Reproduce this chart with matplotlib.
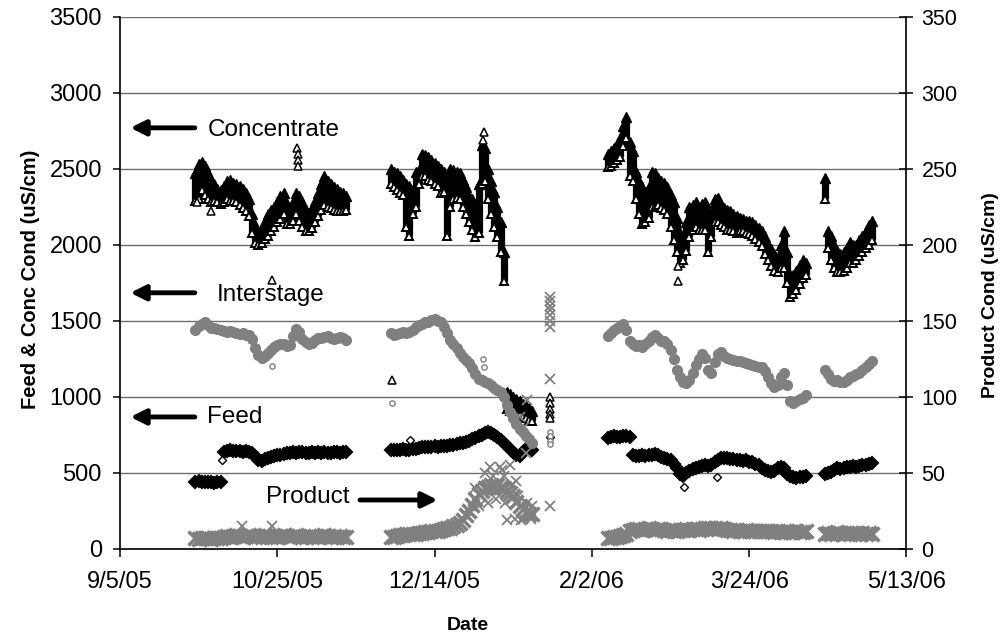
import numpy as np
import pandas as pd
import matplotlib
matplotlib.use('Agg')
import matplotlib.pyplot as plt

plt.rcParams['font.family'] = ['Liberation Sans', 'DejaVu Sans']

t0 = pd.Timestamp('2005-09-05')
run_starts = [24, 86, 155, 224]   # first day of each run, counted from 9/5/05

# Concentrate conductivity (uS/cm): daily low and high reading of each run
conc_lo = [
    [2290, 2300, 2360, 2330, 2300, 2280, 2290, 2280, 2270, 2280, 2300, 2290, 2290, 2280, 2260, 2240, 2220,
     2190, 2080, 2010, 2000, 2010, 2040, 2060, 2090, 2120, 2150, 2170, 2200, 2140, 2140, 2160, 2200, 2160,
     2120, 2090, 2090, 2110, 2150, 2190, 2230, 2260, 2250, 2240, 2230, 2220, 2220, 2220, 2230],
    [2400, 2380, 2360, 2340, 2330, 2120, 2060, 2200, 2250, 2400, 2450, 2450, 2430, 2420, 2400, 2390, 2340,
     2350, 2060, 2250, 2300, 2310, 2300, 2250, 2200, 2150, 2100, 2050, 2080, 2400, 2420, 2300, 2200, 2120,
     2050, 1950, 1760, 920, 910, 900, 890, 880, 870, 860, 850, 840],
    [2510, 2520, 2540, 2560, 2580, 2650, 2700, 2450, 2420, 2300, 2200, 2140, 2150, 2180, 2250, 2250, 2260,
     2240, 2230, 2200, 2120, 2030, 1950, 1880, 1900, 1960, 2050, 2100, 2120, 2100, 2100, 2100, 1950, 2050,
     2150, 2150, 2130, 2120, 2100, 2100, 2090, 2080, 2090, 2090, 2080, 2070, 2060, 2040, 2020, 1990, 1940,
     1900, 1860, 1830, 1820, 1850, 1850, 1750, 1660, 1680, 1700, 1740, 1780, 1800],
    [2300, 1980, 1900, 1850, 1820, 1820, 1830, 1850, 1880, 1880, 1900, 1930, 1950, 1980, 2000, 2030],
]
conc_hi = [
    [2470, 2530, 2545, 2520, 2470, 2430, 2400, 2370, 2360, 2390, 2420, 2430, 2410, 2400, 2390, 2370, 2340,
     2300, 2200, 2130, 2080, 2110, 2160, 2200, 2230, 2250, 2280, 2320, 2340, 2270, 2230, 2280, 2340, 2320,
     2280, 2230, 2210, 2240, 2290, 2340, 2400, 2450, 2420, 2400, 2380, 2370, 2350, 2340, 2320],
    [2500, 2480, 2470, 2450, 2430, 2400, 2390, 2360, 2480, 2490, 2600, 2590, 2580, 2560, 2540, 2520, 2500,
     2480, 2420, 2500, 2490, 2480, 2470, 2430, 2380, 2320, 2300, 2250, 2400, 2660, 2640, 2500, 2420, 2350,
     2250, 2150, 1950, 1035, 1020, 1000, 985, 970, 955, 940, 925, 910],
    [2600, 2620, 2640, 2660, 2700, 2780, 2840, 2680, 2620, 2480, 2420, 2380, 2330, 2380, 2480, 2470, 2440,
     2420, 2410, 2380, 2330, 2280, 2180, 2080, 2040, 2150, 2250, 2260, 2280, 2240, 2270, 2280, 2200, 2230,
     2300, 2310, 2260, 2240, 2230, 2220, 2200, 2190, 2180, 2170, 2160, 2160, 2150, 2130, 2110, 2090, 2050,
     2000, 1970, 1940, 1920, 2000, 2090, 1950, 1800, 1800, 1830, 1870, 1900, 1880],
    [2440, 2090, 2060, 2000, 1960, 1940, 1950, 1980, 2020, 2000, 2000, 2030, 2060, 2090, 2130, 2160],
]
conc_x_days = [24.5, 29.0, 48.3, 56.4, 56.5, 56.6, 56.7, 86.5, 115.3, 115.6,
               136.6, 136.6, 136.6, 136.6, 136.6, 177.3, 177.4]
conc_x_vals = [2280, 2220, 1772, 2640, 2600, 2560, 2520, 1110, 2690, 2745,
               1000, 960, 920, 890, 860, 1761, 1860]

# Interstage, feed and product: one reading per day
inter = [
    [1440, 1465, 1480, 1490, 1470, 1455, 1450, 1445, 1440, 1435, 1430, 1432, 1425, 1420, 1415, 1418, 1410,
     1405, 1380, 1320, 1275, 1255, 1270, 1290, 1310, 1330, 1340, 1350, 1345, 1335, 1340, 1400, 1445, 1430,
     1380, 1360, 1350, 1355, 1375, 1385, 1390, 1395, 1400, 1385, 1380, 1390, 1395, 1385, 1375],
    [1420, 1410, 1415, 1420, 1425, 1420, 1430, 1440, 1460, 1475, 1480, 1490, 1495, 1505, 1510, 1500, 1490,
     1460, 1420, 1375, 1345, 1320, 1290, 1265, 1240, 1220, 1190, 1150, 1120, 1110, 1100, 1090, 1080, 1060,
     1045, 1030, 1000, 950, 900, 860, 820, 790, 770, 740, 720, 700],
    [1400, 1420, 1440, 1455, 1465, 1480, 1440, 1370, 1345, 1335, 1340, 1330, 1345, 1370, 1395, 1405, 1390,
     1370, 1365, 1350, 1310, 1250, 1180, 1130, 1100, 1090, 1110, 1160, 1210, 1250, 1280, 1255, 1180, 1160,
     1230, 1280, 1295, 1270, 1255, 1250, 1240, 1235, 1238, 1230, 1225, 1215, 1210, 1205, 1200, 1195, 1170,
     1130, 1090, 1065, 1080, 1130, 1155, 1080, 970, 960, 975, 985, 995, 1015],
    [1180, 1150, 1120, 1105, 1110, 1100, 1095, 1110, 1130, 1140, 1150, 1160, 1175, 1195, 1215, 1235],
]
inter_x_days = [48.3, 86.5, 115.3, 115.6, 136.6, 136.6, 136.6, 136.6]
inter_x_vals = [1204, 960, 1250, 1200, 770, 740, 710, 690]

feed = [
    [440, 445, 440, 438, 442, 440, 436, 440, 438, 635, 645, 648, 645, 642, 645, 640, 645, 640, 630, 610,
     585, 578, 590, 600, 605, 612, 615, 620, 625, 630, 632, 635, 632, 638, 635, 630, 632, 635, 630, 635,
     632, 636, 634, 630, 635, 638, 632, 636, 640],
    [650, 648, 652, 650, 655, 652, 650, 655, 660, 665, 668, 670, 668, 672, 675, 672, 678, 680, 676, 682,
     685, 690, 695, 700, 705, 712, 720, 730, 740, 750, 760, 768, 765, 750, 735, 715, 695, 675, 655, 635,
     620, 610, 640, 655, 665, 650],
    [730, 735, 740, 738, 735, 740, 742, 735, 615, 610, 612, 615, 612, 618, 620, 625, 615, 605, 600, 592,
     585, 560, 530, 495, 480, 500, 515, 525, 535, 540, 545, 550, 548, 555, 570, 585, 598, 600, 595, 590,
     592, 588, 585, 580, 582, 575, 570, 560, 550, 535, 520, 510, 505, 515, 535, 540, 530, 495, 480, 470,
     468, 470, 472, 478],
    [495, 500, 505, 520, 530, 528, 535, 540, 538, 545, 542, 548, 550, 555, 560, 565],
]
feed_x_days = [32.5, 92.3, 136.6, 179.2, 189.7]
feed_x_vals = [585, 717, 737, 410, 472]

product = [
    [7, 6.5, 7, 7.5, 7, 6.5, 7, 7.5, 7, 8, 8.5, 8, 8.5, 9, 8.5, 8, 8.5, 9, 8.5, 8,
     8.5, 8, 9, 8.5, 8, 8.5, 8, 8.5, 9, 8.5, 8, 8.5, 9, 8.5, 8, 8, 8.5, 8, 8.5, 8,
     8.5, 9, 8.5, 8, 8.5, 8, 8.5, 8, 8],
    [8, 8, 8.5, 9, 9, 9.5, 9.5, 10, 10, 10.5, 10.5, 11, 11, 11.5, 11.5, 12, 12.5, 13, 13.5,
     14, 15, 16, 17, 19, 22, 25, 29, 33, 36, 38, 40, 41, 42, 41, 42, 41, 40, 38, 37,
     35, 31, 28, 26, 24, 23, 23],
    [7, 7.5, 8, 8, 8.5, 9, 10,
     12, 12.5, 13, 13, 12.5, 13, 13.5, 13, 12.5, 13, 13, 12.5, 12, 12.5, 12, 12, 12.5, 12.5, 13, 12.5,
     13, 13, 12.5, 13, 13.5, 14, 14, 13.5, 13, 13.5, 13, 12.5, 12.5, 12, 12.5, 12, 12, 12.5, 12, 12,
     11.5, 12, 11.5, 11.5, 12, 11.5, 11, 11.5, 11, 11, 11.5, 11, 11, 11.5, 11, 11, 11.5],
    [10, 10.5, 10, 10.5, 11, 10.5, 10, 10.5, 10, 10.5, 10.5, 10, 10.5, 10, 10.5, 10],
]
# extra product readings scattered around the main trend
prod_x_days = [38.9, 48.4, 112.5, 113.0, 114.0, 116.0, 117.0, 117.7, 118.5, 119.5, 120.8, 121.5, 122.0,
               122.5, 123.0, 124.0, 124.5, 125.5, 126.0, 126.5, 127.0, 127.5, 128.0, 128.5, 129.0, 129.3,
               129.5, 130.5, 131.0,
               136.6, 136.6, 136.6, 136.6, 136.6, 136.6, 136.6, 136.6, 136.6]
prod_x_vals = [15, 15, 27, 40, 28, 50, 30, 54, 48, 33, 54, 52, 48,
               30, 19, 55, 42, 20, 45, 35, 87, 19, 20, 80, 63, 98,
               30, 20, 28,
               166, 163, 160, 157, 154, 150, 146, 112, 28]


def dates(days):
    return t0 + pd.to_timedelta(np.asarray(days, dtype=float), unit='D')


def run(first, vals):
    return dates(first + np.arange(len(vals)))


GRAY = '#808080'
fig = plt.figure(figsize=(10.08, 6.42), dpi=100)
ax = fig.add_axes([0.119, 0.145, 0.7803, 0.8287])
ax2 = ax.twinx()

# concentrate: daily spread as a solid stack of triangles
for first, lo, hi in zip(run_starts, conc_lo, conc_hi):
    d = run(first, lo)
    ax.vlines(d, lo, hi, colors='black', lw=5.2, capstyle='butt')
    ax.plot(d, hi, ls='none', marker='^', ms=6.6, mfc='black', mec='black', mew=1.0)
    ax.plot(d, lo, ls='none', marker='^', ms=6.2, mfc='white', mec='black', mew=1.4)
ax.plot(dates(conc_x_days), conc_x_vals, ls='none', marker='^', ms=6.0,
        mfc='white', mec='black', mew=1.1)

dia = dict(ls='none', marker='D', ms=6.0, mfc='black', mec='black', mew=1.5)
for first, vals in zip(run_starts, feed):
    ax.plot(run(first, vals), vals, **dia)
ax.plot(dates(feed_x_days), feed_x_vals, **dict(dia, ms=4.2, mfc='white', mew=1.0))

circ = dict(ls='none', marker='o', ms=6.6, mfc=GRAY, mec=GRAY, mew=1.4)
for first, vals in zip(run_starts, inter):
    ax.plot(run(first, vals), vals, **circ)
ax.plot(dates(inter_x_days), inter_x_vals, **dict(circ, ms=3.8, mfc='white', mew=1.0))

crs = dict(ls='none', marker='x', ms=9.5, mec=GRAY, mew=2.5)
for first, vals in zip(run_starts, product):
    ax2.plot(run(first, vals), vals, **crs)
ax2.plot(dates(prod_x_days), prod_x_vals, **dict(crs, ms=7, mew=1.3))

# axes
ax.set_xlim(t0, t0 + pd.Timedelta(days=250))
ax.set_ylim(0, 3500)
ax2.set_ylim(0, 350)
ax.set_yticks(np.arange(0, 3501, 500))
ax2.set_yticks(np.arange(0, 351, 50))
xt = [t0 + pd.Timedelta(days=d) for d in range(0, 251, 50)]
ax.set_xticks(xt)
ax.set_xticklabels([f'{d.month}/{d.day}/{d:%y}' for d in xt])

ax.set_axisbelow(True)
ax.yaxis.grid(True, color='#6e6e6e', lw=1.0)
for a in (ax, ax2):
    a.spines['top'].set_visible(False)
ax.spines['right'].set_visible(False)
ax2.spines['left'].set_visible(False)
ax2.spines['bottom'].set_visible(False)
for s in ('left', 'bottom'):
    ax.spines[s].set_linewidth(1.2)
ax2.spines['right'].set_linewidth(1.2)

ax.tick_params(axis='y', direction='out', length=5, width=1.1, labelsize=17, pad=8)
ax.tick_params(axis='x', direction='out', length=6, width=1.1, labelsize=17, pad=10)
ax2.tick_params(axis='y', direction='inout', length=9.5, width=1.1, labelsize=15.5, pad=6)

fig.text(0.030, 0.565, 'Feed & Conc Cond (uS/cm)', rotation=90, ha='center', va='center',
         fontsize=14.5, fontweight='bold')
fig.text(0.983, 0.540, 'Product Cond (uS/cm)', rotation=90, ha='center', va='center',
         fontsize=14, fontweight='bold')
fig.text(0.464, 0.026, 'Date', ha='center', va='center', fontsize=14, fontweight='bold')

# stream labels with arrows
arr = dict(arrowstyle='-|>,head_length=0.9,head_width=0.45', lw=3.5, color='black',
           shrinkA=0, shrinkB=0)
for name, tx, ty, ay in [('Concentrate', 28.0, 2757, 2770),
                         ('Interstage', 30.8, 1671, 1685),
                         ('Feed', 27.6, 868, 868)]:
    ax.text(dates([tx])[0], ty, name, fontsize=17.5, va='center', ha='left')
    ax.annotate('', xy=(dates([3.3])[0], ay), xytext=(dates([23.8])[0], ay), arrowprops=arr)
ax.text(dates([46.5])[0], 342, 'Product', fontsize=17.5, va='center', ha='left')
ax.annotate('', xy=(dates([101.0])[0], 322), xytext=(dates([76.3])[0], 322), arrowprops=arr)

fig.savefig('out.png', dpi=100)
